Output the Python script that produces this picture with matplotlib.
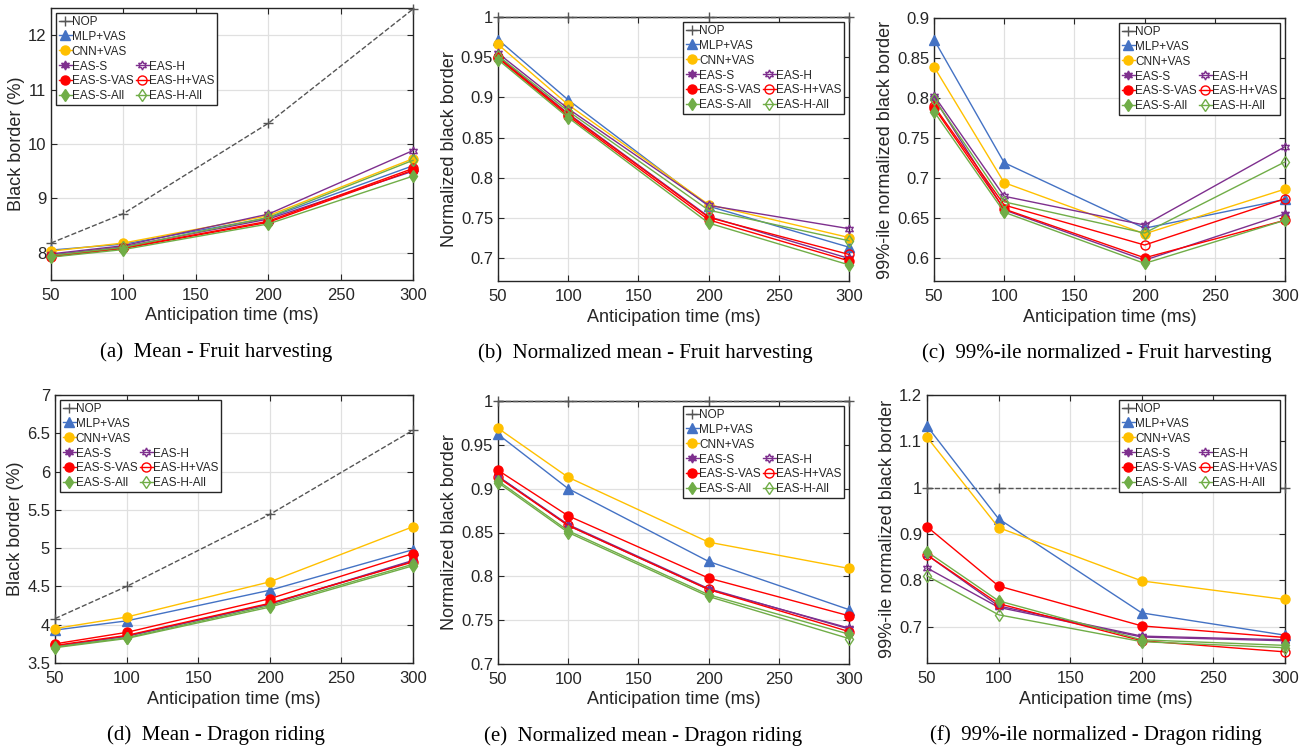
import matplotlib
matplotlib.use("Agg")
import matplotlib.pyplot as plt
from matplotlib.lines import Line2D

### ---- Data
x_ms = [50, 100, 200, 300]

methods = ["NOP", "MLP+VAS", "CNN+VAS", "EAS-S", "EAS-H",
           "EAS-S-VAS", "EAS-H+VAS", "EAS-S-All", "EAS-H-All"]

# (a) Mean - Fruit harvesting
fruit_mean = {
    "NOP":       [8.18, 8.72, 10.38, 12.48],
    "MLP+VAS":   [8.05, 8.16, 8.64, 9.60],
    "CNN+VAS":   [8.03, 8.18, 8.68, 9.73],
    "EAS-S":     [7.96, 8.11, 8.62, 9.50],
    "EAS-H":     [7.98, 8.13, 8.71, 9.88],
    "EAS-S-VAS": [7.93, 8.08, 8.56, 9.52],
    "EAS-H+VAS": [7.94, 8.09, 8.58, 9.55],
    "EAS-S-All": [7.92, 8.06, 8.53, 9.41],
    "EAS-H-All": [7.95, 8.10, 8.65, 9.70],
}

# (b) Normalized mean - Fruit harvesting
fruit_norm = {
    "NOP":       [1.0, 1.0, 1.0, 1.0],
    "MLP+VAS":   [0.972, 0.897, 0.765, 0.714],
    "CNN+VAS":   [0.966, 0.891, 0.767, 0.726],
    "EAS-S":     [0.951, 0.880, 0.752, 0.700],
    "EAS-H":     [0.955, 0.886, 0.766, 0.737],
    "EAS-S-VAS": [0.949, 0.877, 0.748, 0.697],
    "EAS-H+VAS": [0.950, 0.879, 0.751, 0.705],
    "EAS-S-All": [0.947, 0.875, 0.744, 0.692],
    "EAS-H-All": [0.952, 0.883, 0.760, 0.722],
}

# (c) 99%-ile normalized - Fruit harvesting
fruit_p99 = {
    "NOP":       [1.0, 1.0, 1.0, 1.0],
    "MLP+VAS":   [0.873, 0.719, 0.637, 0.673],
    "CNN+VAS":   [0.839, 0.694, 0.630, 0.686],
    "EAS-S":     [0.800, 0.660, 0.597, 0.655],
    "EAS-H":     [0.803, 0.677, 0.641, 0.739],
    "EAS-S-VAS": [0.788, 0.661, 0.600, 0.647],
    "EAS-H+VAS": [0.790, 0.666, 0.616, 0.674],
    "EAS-S-All": [0.783, 0.657, 0.593, 0.647],
    "EAS-H-All": [0.799, 0.670, 0.631, 0.720],
}

# (d) Mean - Dragon riding
dragon_mean = {
    "NOP":       [4.08, 4.50, 5.44, 6.54],
    "MLP+VAS":   [3.93, 4.05, 4.45, 4.98],
    "CNN+VAS":   [3.95, 4.10, 4.56, 5.28],
    "EAS-S":     [3.72, 3.85, 4.27, 4.83],
    "EAS-H":     [3.72, 3.85, 4.27, 4.84],
    "EAS-S-VAS": [3.75, 3.90, 4.34, 4.93],
    "EAS-H+VAS": [3.73, 3.86, 4.28, 4.82],
    "EAS-S-All": [3.70, 3.82, 4.23, 4.77],
    "EAS-H-All": [3.71, 3.83, 4.25, 4.79],
}

# (e) Normalized mean - Dragon riding
dragon_norm = {
    "NOP":       [1.0, 1.0, 1.0, 1.0],
    "MLP+VAS":   [0.962, 0.900, 0.817, 0.762],
    "CNN+VAS":   [0.969, 0.913, 0.839, 0.809],
    "EAS-S":     [0.914, 0.858, 0.785, 0.741],
    "EAS-H":     [0.914, 0.859, 0.786, 0.740],
    "EAS-S-VAS": [0.921, 0.869, 0.798, 0.755],
    "EAS-H+VAS": [0.913, 0.858, 0.785, 0.737],
    "EAS-S-All": [0.909, 0.852, 0.779, 0.734],
    "EAS-H-All": [0.907, 0.850, 0.777, 0.729],
}

# (f) 99%-ile normalized - Dragon riding
dragon_p99 = {
    "NOP":       [1.0, 1.0, 1.0, 1.0],
    "MLP+VAS":   [1.133, 0.933, 0.730, 0.682],
    "CNN+VAS":   [1.109, 0.914, 0.799, 0.759],
    "EAS-S":     [0.855, 0.745, 0.680, 0.672],
    "EAS-H":     [0.827, 0.742, 0.678, 0.670],
    "EAS-S-VAS": [0.916, 0.788, 0.702, 0.677],
    "EAS-H+VAS": [0.855, 0.750, 0.670, 0.646],
    "EAS-S-All": [0.862, 0.756, 0.672, 0.660],
    "EAS-H-All": [0.810, 0.726, 0.668, 0.655],
}

captions = ["(a)  Mean - Fruit harvesting",
            "(b)  Normalized mean - Fruit harvesting",
            "(c)  99%-ile normalized - Fruit harvesting",
            "(d)  Mean - Dragon riding",
            "(e)  Normalized mean - Dragon riding",
            "(f)  99%-ile normalized - Dragon riding"]

ylabels = ["Black border (%)", "Normalized black border",
           "99%-ile normalized black border"] * 2

### ---- Styles (MATLAB-like)
BLUE, YEL, PUR, RED, GRN = "#4472C4", "#FFC000", "#7E2F8E", "#FF0000", "#70AD47"
HEX = (6, 1, 0)
styles = {
    "NOP":       dict(color="#555555", marker="+", ls="--", mfc="#555555"),
    "MLP+VAS":   dict(color=BLUE, marker="^", ls="-", mfc=BLUE),
    "CNN+VAS":   dict(color=YEL, marker="o", ls="-", mfc=YEL),
    "EAS-S":     dict(color=PUR, marker=HEX, ls="-", mfc=PUR),
    "EAS-H":     dict(color=PUR, marker=HEX, ls="-", mfc="none"),
    "EAS-S-VAS": dict(color=RED, marker="o", ls="-", mfc=RED),
    "EAS-H+VAS": dict(color=RED, marker="o", ls="-", mfc="none"),
    "EAS-S-All": dict(color=GRN, marker="d", ls="-", mfc=GRN),
    "EAS-H-All": dict(color=GRN, marker="d", ls="-", mfc="none"),
}

plt.rcParams["font.family"] = ["Liberation Sans", "DejaVu Sans"]
TXT = "#262626"

fig = plt.figure(figsize=(13.12, 7.5), dpi=100)
W, H = 1312, 750

# axes boxes in pixels: left, top, right, bottom
boxes = [(51, 8, 413, 280), (498, 17, 849, 281), (934, 18, 1285, 281),
         (55, 395, 413, 663), (498, 401, 849, 664), (927, 395, 1285, 663)]
caption_x = [216, 645, 1097, 216, 643, 1096]
ylims = [(7.5, 12.5), (0.672, 1.0), (0.571, 0.9),
         (3.5, 7.0), (0.7, 1.0), (0.622, 1.2)]
yticks = [[8, 9, 10, 11, 12],
          [0.7, 0.75, 0.8, 0.85, 0.9, 0.95, 1],
          [0.6, 0.65, 0.7, 0.75, 0.8, 0.85, 0.9],
          [3.5, 4, 4.5, 5, 5.5, 6, 6.5, 7],
          [0.7, 0.75, 0.8, 0.85, 0.9, 0.95, 1],
          [0.7, 0.8, 0.9, 1, 1.1, 1.2]]
ytlabels = [["8", "9", "10", "11", "12"],
            ["0.7", "0.75", "0.8", "0.85", "0.9", "0.95", "1"],
            ["0.6", "0.65", "0.7", "0.75", "0.8", "0.85", "0.9"],
            ["3.5", "4", "4.5", "5", "5.5", "6", "6.5", "7"],
            ["0.7", "0.75", "0.8", "0.85", "0.9", "0.95", "1"],
            ["0.7", "0.8", "0.9", "1", "1.1", "1.2"]]
legend_loc = ["upper left", "upper right", "upper right",
              "upper left", "upper right", "upper right"]
datasets = [fruit_mean, fruit_norm, fruit_p99,
            dragon_mean, dragon_norm, dragon_p99]

for i, data in enumerate(datasets):
    l, t, r, b = boxes[i]
    ax = fig.add_axes([l / W, 1 - b / H, (r - l) / W, (b - t) / H])
    for m in methods:
        st = styles[m]
        ax.plot(x_ms, data[m], color=st["color"], marker=st["marker"],
                ls=st["ls"], mfc=st["mfc"], mec=st["color"],
                lw=1.0, ms=6.5 if st["marker"] != "+" else 7,
                mew=1.0, clip_on=False, zorder=3)
    ax.set_xlim(50, 300)
    ax.set_ylim(*ylims[i])
    ax.set_xticks([50, 100, 150, 200, 250, 300])
    ax.set_yticks(yticks[i])
    ax.set_yticklabels(ytlabels[i])
    ax.grid(True, color="#e0e0e0", lw=0.9)
    ax.set_axisbelow(True)
    ax.tick_params(direction="in", top=True, right=True, length=4,
                   labelsize=12, colors=TXT, width=0.8)
    ax.tick_params(axis="x", pad=6)
    for sp in ax.spines.values():
        sp.set_color(TXT)
        sp.set_linewidth(1.0)
    ax.set_xlabel("Anticipation time (ms)", fontsize=13, color=TXT, labelpad=3)
    ax.set_ylabel(ylabels[i], fontsize=13, color=TXT, labelpad=2)

    # legend: three single rows then two columns
    blank = Line2D([], [], ls="none", marker="none")
    hd = {}
    for m in methods:
        st = styles[m]
        hd[m] = Line2D([], [], color=st["color"], marker=st["marker"],
                       ls="-", mfc=st["mfc"], mec=st["color"], lw=1.0,
                       ms=6.5, mew=1.0)
    handles = [hd["NOP"], hd["MLP+VAS"], hd["CNN+VAS"], hd["EAS-S"],
               hd["EAS-S-VAS"], hd["EAS-S-All"],
               blank, blank, blank, hd["EAS-H"], hd["EAS-H+VAS"], hd["EAS-H-All"]]
    labels = ["NOP", "MLP+VAS", "CNN+VAS", "EAS-S", "EAS-S-VAS", "EAS-S-All",
              "", "", "", "EAS-H", "EAS-H+VAS", "EAS-H-All"]
    leg = ax.legend(handles, labels, ncol=2, loc=legend_loc[i], fontsize=8.5,
                    handlelength=1.1, handletextpad=0.0, columnspacing=0.2,
                    labelspacing=0.25, borderpad=0.25, borderaxespad=0.4,
                    fancybox=False, framealpha=1, edgecolor=TXT)
    leg.get_frame().set_linewidth(1.0)
    for txt in leg.get_texts():
        txt.set_color(TXT)

    # caption below axes
    fig.text(caption_x[i] / W, 1 - (b + 72) / H, captions[i],
             ha="center", va="center", fontsize=15,
             family=["Liberation Serif", "DejaVu Serif"], color="black")

fig.savefig("out.png", dpi=100)
